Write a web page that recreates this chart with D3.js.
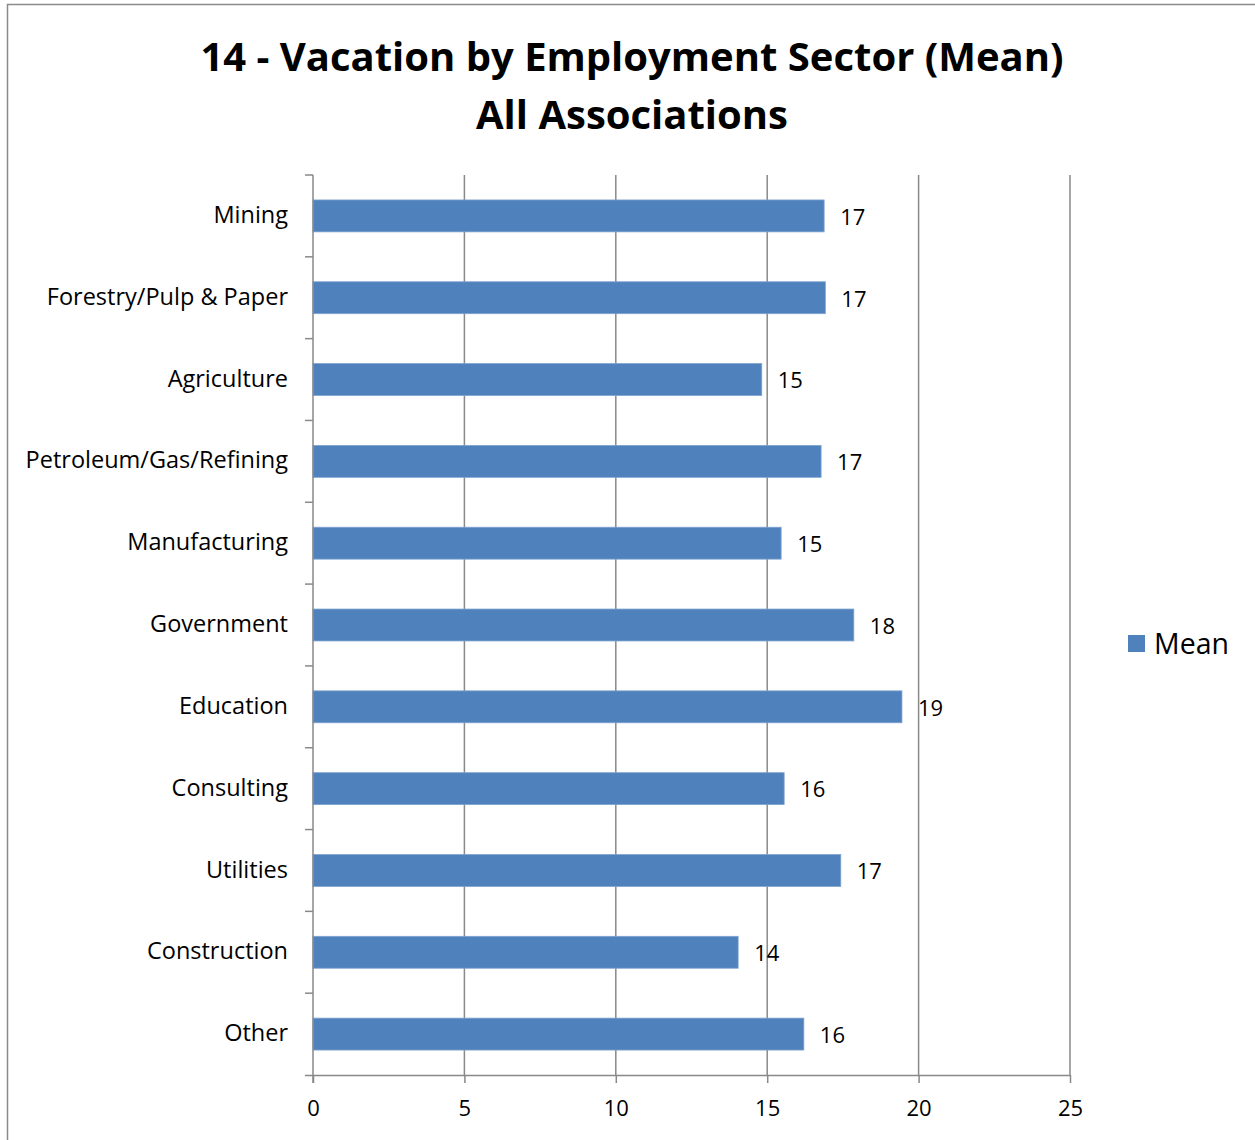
<!DOCTYPE html>
<html><head><meta charset="utf-8">
<script src="https://cdn.jsdelivr.net/npm/d3@7"></script>
<style>body{margin:0;background:#fff}svg{display:block}</style>
</head><body><svg id="c" width="1255" height="1140"></svg>
<script>
const categories = ["Mining","Forestry/Pulp & Paper","Agriculture","Petroleum/Gas/Refining","Manufacturing","Government","Education","Consulting","Utilities","Construction","Other"];
const meanValues = [16.88,16.92,14.82,16.78,15.46,17.86,19.45,15.56,17.43,14.04,16.21];
const xTicks = [0,5,10,15,20,25];
const titleLines = ["14 - Vacation by Employment Sector (Mean)","All Associations"];
const seriesName = "Mean";

const svg = d3.select("#c");
const font = "'Open Sans', sans-serif";
const m = {l:313, r:1070, t:175, b:1075};
const blue = "#4F81BD", grid = "#898989";

svg.append("rect").attr("x",7.5).attr("y",4.5).attr("width",1260).attr("height",1200)
  .attr("fill","#fff").attr("stroke","#8a8a8a").attr("stroke-width",1.5);

const x = d3.scaleLinear().domain([0,25]).range([m.l,m.r]);
const y = d3.scaleBand().domain(categories).range([m.t,m.b]).paddingInner(0.61).paddingOuter(0.305);
const band = d3.scaleBand().domain(categories).range([m.t,m.b]);

svg.selectAll("text.title").data(titleLines).join("text")
  .attr("x",632).attr("y",(d,i)=>71+i*58).attr("text-anchor","middle")
  .attr("font-family",font).attr("font-weight","bold").attr("font-size",40).text(d=>d);

// gridlines
svg.append("g").selectAll("line").data(xTicks.slice(1)).join("line")
  .attr("x1",d=>x(d)).attr("x2",d=>x(d)).attr("y1",m.t).attr("y2",m.b)
  .attr("stroke",grid).attr("stroke-width",1.5);

// bars
svg.append("g").selectAll("rect").data(meanValues).join("rect")
  .attr("x",x(0)).attr("y",(d,i)=>y(categories[i])).attr("height",y.bandwidth())
  .attr("width",d=>x(d)-x(0)).attr("fill",blue).attr("stroke","#7ea2cf").attr("stroke-width",0.8);

// x axis
const xa = svg.append("g").attr("transform",`translate(0,${m.b})`)
  .call(d3.axisBottom(x).tickValues(xTicks).tickSize(8).tickSizeOuter(0).tickPadding(17));
xa.select(".domain").attr("stroke",grid).attr("stroke-width",1.5).attr("d",`M${m.l-8},0.5H${m.r}`);
xa.selectAll(".tick line").attr("stroke",grid).attr("stroke-width",1.5);
xa.selectAll("text").attr("font-family",font).attr("font-size",22).attr("fill","#000");

// y axis line with category boundary ticks
const ya = svg.append("g");
ya.append("line").attr("x1",m.l).attr("x2",m.l).attr("y1",m.t).attr("y2",m.b+8)
  .attr("stroke",grid).attr("stroke-width",1.5);
const bounds = categories.map(c=>band(c));
ya.selectAll("line.tk").data(bounds).join("line").attr("class","tk")
  .attr("x1",m.l-8).attr("x2",m.l).attr("y1",d=>d).attr("y2",d=>d)
  .attr("stroke",grid).attr("stroke-width",1.5);
ya.selectAll("text").data(categories).join("text")
  .attr("x",288).attr("y",d=>y(d)+y.bandwidth()/2).attr("dy","0.3em")
  .attr("text-anchor","end").attr("font-family",font).attr("font-size",23.5).text(d=>d);

// data labels
svg.append("g").selectAll("text").data(meanValues).join("text")
  .attr("x",d=>x(d)+16).attr("y",(d,i)=>y(categories[i])+y.bandwidth()/2).attr("dy","0.4em")
  .attr("font-family",font).attr("font-size",22).text(d=>Math.round(d));

// legend
svg.append("rect").attr("x",1128).attr("y",635).attr("width",17).attr("height",17).attr("fill",blue);
svg.append("text").attr("x",1154).attr("y",654).attr("font-family",font).attr("font-size",28.5).text(seriesName);
</script></body></html>
